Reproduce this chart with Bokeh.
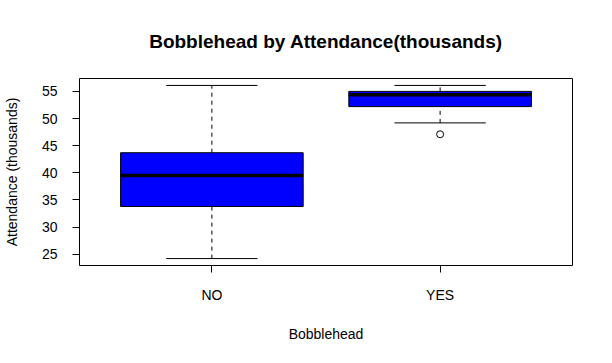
from bokeh.plotting import figure
from bokeh.models import FixedTicker, ColumnDataSource, Range1d
from bokeh.embed import file_html
from bokeh.resources import INLINE

categories = ["NO", "YES"]
lower_whisker = [24.2, 49.2]
q1 = [33.8, 52.2]
median = [39.5, 54.4]
q3 = [43.7, 55.0]
upper_whisker = [56.1, 56.1]
outlier_category = ["YES"]
outlier_value = [47.1]
y_ticks = [25, 30, 35, 40, 45, 50, 55]

FONT = "Liberation Sans"
pos = [i + 1 for i in range(len(categories))]
box_w = 0.8
cap_w = 0.4

src = ColumnDataSource(dict(
    x=pos, lw=lower_whisker, q1=q1, med=median, q3=q3, uw=upper_whisker,
    bl=[p - box_w / 2 for p in pos], br=[p + box_w / 2 for p in pos],
    cl=[p - cap_w / 2 for p in pos], cr=[p + cap_w / 2 for p in pos],
))
out_src = ColumnDataSource(dict(
    x=[pos[categories.index(c)] for c in outlier_category], y=outlier_value))

lo = min(lower_whisker + outlier_value)
hi = max(upper_whisker)
pad = (hi - lo) * 0.04

p = figure(width=612, height=363, output_backend="svg", toolbar_location=None,
           x_range=Range1d(0.42, 2.58), y_range=Range1d(lo - pad, hi + pad),
           min_border_left=79, min_border_right=40, min_border_top=78,
           min_border_bottom=98)
p.background_fill_color = "white"
p.border_fill_color = "white"
p.outline_line_color = "black"
p.outline_line_width = 1
p.grid.visible = False

# whiskers (dashed)
p.segment(x0="x", y0="q3", x1="x", y1="uw", source=src, line_color="black",
          line_width=1, line_dash="4 4")
p.segment(x0="x", y0="lw", x1="x", y1="q1", source=src, line_color="black",
          line_width=1, line_dash="4 4")
# caps
p.segment(x0="cl", y0="uw", x1="cr", y1="uw", source=src, line_color="black", line_width=1)
p.segment(x0="cl", y0="lw", x1="cr", y1="lw", source=src, line_color="black", line_width=1)
# boxes
p.quad(left="bl", right="br", bottom="q1", top="q3", source=src,
       fill_color="#0000FF", line_color="black", line_width=1)
# medians
p.segment(x0="bl", y0="med", x1="br", y1="med", source=src, line_color="black",
          line_width=3.5)
# outliers
p.scatter(x="x", y="y", source=out_src, marker="circle", size=7,
          fill_color=None, line_color="black", line_width=1)

# axes
p.xaxis.ticker = FixedTicker(ticks=pos)
p.xaxis.major_label_overrides = {p_: c for p_, c in zip(pos, categories)}
p.xaxis.bounds = (pos[0], pos[-1])
p.yaxis.ticker = FixedTicker(ticks=y_ticks)
p.yaxis.bounds = (y_ticks[0], y_ticks[-1])
for ax in (p.xaxis, p.yaxis):
    ax.minor_tick_line_color = None
    ax.major_tick_out = 7
    ax.major_tick_in = 0
    ax.axis_line_color = "black"
    ax.major_tick_line_color = "black"
    ax.major_label_text_font = FONT
    ax.major_label_text_font_size = "14px"
    ax.major_label_text_color = "black"
    ax.axis_label_text_font = FONT
    ax.axis_label_text_font_size = "14px"
    ax.axis_label_text_font_style = "normal"
    ax.axis_label_text_color = "black"
p.xaxis.major_label_standoff = 14
p.yaxis.major_label_standoff = 15
p.yaxis.major_label_orientation = "horizontal"
p.xaxis.axis_label = "Bobblehead"
p.yaxis.axis_label = "Attendance (thousands)"
p.xaxis.axis_label_standoff = 20
p.yaxis.axis_label_standoff = 19

p.title.text = "Bobblehead by Attendance(thousands)"
p.title.text_font = FONT
p.title.text_font_size = "19px"
p.title.text_font_style = "bold"
p.title.text_color = "black"
p.title.align = "center"
p.title.standoff = 54

open("out.html", "w").write(file_html(p, INLINE))
